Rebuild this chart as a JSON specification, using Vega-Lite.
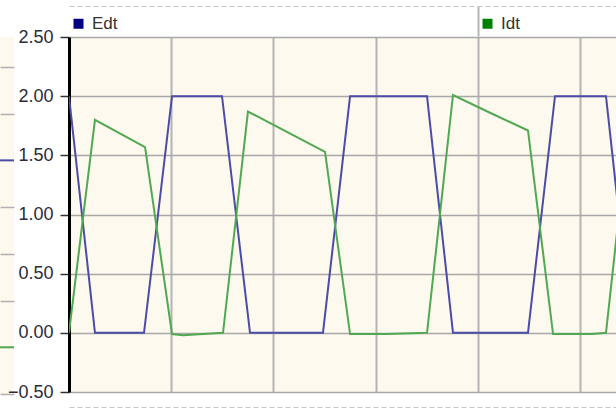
{
  "$schema": "https://vega.github.io/schema/vega-lite/v6.json",
  "autosize": {"type": "pad"},
  "padding": {"left": 0, "top": 5, "right": 0, "bottom": 2},
  "background": "white",
  "spacing": 55,
  "bounds": "flush",
  "resolve": {"scale": {"color": "independent", "stroke": "independent"}, "legend": {"color": "independent", "stroke": "independent"}},
  "config": {
    "view": {"fill": "#fdf9ee", "stroke": null},
    "font": "Liberation Sans"
  },
  "datasets": {
    "previous": [
      {"t": 0, "level": 5, "series": "Edt"},
      {"t": 1, "level": 5, "series": "Edt"},
      {"t": 0, "level": 1, "series": "Idt"},
      {"t": 1, "level": 1, "series": "Idt"}
    ],
    "waves": [
      {"t": 0.000, "value": 2.00, "series": "Edt"},
      {"t": 0.254, "value": 0.00, "series": "Edt"},
      {"t": 0.734, "value": 0.00, "series": "Edt"},
      {"t": 1.008, "value": 2.00, "series": "Edt"},
      {"t": 1.497, "value": 2.00, "series": "Edt"},
      {"t": 1.771, "value": 0.00, "series": "Edt"},
      {"t": 2.485, "value": 0.00, "series": "Edt"},
      {"t": 2.750, "value": 2.00, "series": "Edt"},
      {"t": 3.503, "value": 2.00, "series": "Edt"},
      {"t": 3.757, "value": 0.00, "series": "Edt"},
      {"t": 4.491, "value": 0.00, "series": "Edt"},
      {"t": 4.755, "value": 2.00, "series": "Edt"},
      {"t": 5.254, "value": 2.00, "series": "Edt"},
      {"t": 5.508, "value": 0.00, "series": "Edt"},
      {"t": 0.000, "value": 0.00, "series": "Idt"},
      {"t": 0.254, "value": 1.80, "series": "Idt"},
      {"t": 0.744, "value": 1.57, "series": "Idt"},
      {"t": 1.008, "value": -0.01, "series": "Idt"},
      {"t": 1.115, "value": -0.02, "series": "Idt"},
      {"t": 1.507, "value": 0.00, "series": "Idt"},
      {"t": 1.751, "value": 1.87, "series": "Idt"},
      {"t": 2.505, "value": 1.53, "series": "Idt"},
      {"t": 2.750, "value": -0.01, "series": "Idt"},
      {"t": 3.112, "value": -0.01, "series": "Idt"},
      {"t": 3.503, "value": 0.00, "series": "Idt"},
      {"t": 3.757, "value": 2.01, "series": "Idt"},
      {"t": 4.119, "value": 1.86, "series": "Idt"},
      {"t": 4.491, "value": 1.71, "series": "Idt"},
      {"t": 4.736, "value": -0.01, "series": "Idt"},
      {"t": 5.117, "value": -0.01, "series": "Idt"},
      {"t": 5.254, "value": 0.00, "series": "Idt"},
      {"t": 5.508, "value": 2.00, "series": "Idt"}
    ]
  },
  "hconcat": [
    {
      "width": 14,
      "height": 357,
      "data": {"name": "previous"},
      "mark": {"type": "line", "strokeWidth": 2, "clip": true},
      "encoding": {
        "x": {
          "field": "t", "type": "quantitative",
          "scale": {"domain": [0, 1], "nice": false},
          "axis": null
        },
        "y": {
          "field": "level", "type": "quantitative",
          "scale": {"domain": [0, 7.64], "nice": false},
          "axis": {
            "title": null, "values": [0, 2, 3, 4, 6, 7],
            "labels": false, "ticks": false, "domain": false,
            "grid": true, "gridColor": "#b0b0b0", "gridWidth": 1.5, "gridOpacity": 1
          }
        },
        "stroke": {
          "field": "series", "type": "nominal",
          "scale": {"domain": ["Edt", "Idt"], "range": ["#4b4ba8", "#52a852"]},
          "legend": null
        }
      }
    },
    {
      "width": 547,
      "height": 355,
      "data": {"name": "waves"},
      "resolve": {"axis": {"x": "independent"}},
      "layer": [
        {
          "mark": {"type": "line", "strokeWidth": 2, "clip": true},
          "encoding": {
            "x": {
              "field": "t", "type": "quantitative",
              "scale": {"domain": [0, 5.352], "nice": false, "zero": false},
              "axis": {
                "orient": "bottom", "title": null, "values": [0, 1, 2, 3, 4, 5],
                "labels": false, "ticks": false, "offset": 15,
                "domain": true, "domainColor": "#c8c8c8", "domainDash": [5, 3], "domainWidth": 1,
                "grid": true, "gridColor": "#b4b4b4", "gridWidth": 2, "gridOpacity": 1
              }
            },
            "y": {
              "field": "value", "type": "quantitative",
              "scale": {"domain": [-0.5, 2.5], "nice": false, "zero": false},
              "axis": {
                "title": null, "values": [-0.5, 0, 0.5, 1, 1.5, 2, 2.5], "format": ".2f",
                "labelFontSize": 18, "labelColor": "#2b2b3b", "labelPadding": 7,
                "tickSize": 9, "tickColor": "#333333", "tickWidth": 1.5,
                "domain": true, "domainColor": "#000000", "domainWidth": 3,
                "grid": true, "gridColor": "#a8a8a8", "gridWidth": 1.5, "gridOpacity": 1
              }
            },
            "color": {
              "field": "series", "type": "nominal",
              "scale": {"domain": ["Edt", "Idt"], "range": ["#4b4ba8", "#52a852"]},
              "legend": {
                "title": null, "orient": "none", "legendX": 1, "legendY": -22,
                "direction": "horizontal", "columns": 2, "columnPadding": 361,
                "symbolType": "square", "symbolSize": 100, "symbolStrokeWidth": 0,
                "labelFontSize": 17, "labelColor": "#333333", "labelOffset": 5,
                "encode": {
                  "symbols": {
                    "update": {
                      "fill": {"signal": "datum.value === 'Edt' ? '#000080' : '#008000'"},
                      "stroke": {"value": "transparent"}
                    }
                  }
                }
              }
            }
          }
        },
        {
          "mark": {"type": "rule", "opacity": 0},
          "encoding": {
            "x": {
              "field": "t", "type": "quantitative",
              "axis": {
                "orient": "top", "title": null, "values": [4],
                "labels": false, "offset": 31,
                "ticks": true, "tickSize": -30, "tickColor": "#b4b4b4", "tickWidth": 2,
                "domain": true, "domainColor": "#c8c8c8", "domainDash": [5, 3], "domainWidth": 1,
                "grid": false
              }
            }
          }
        }
      ]
    }
  ]
}
